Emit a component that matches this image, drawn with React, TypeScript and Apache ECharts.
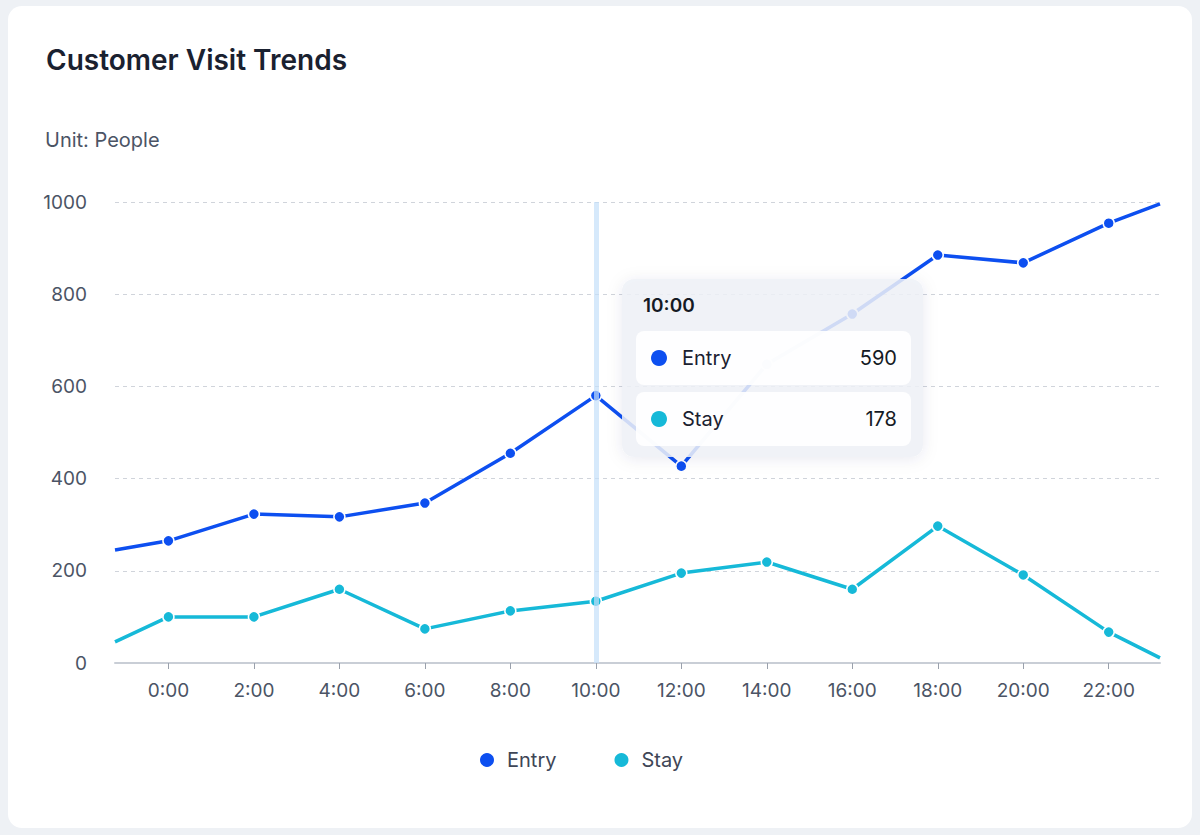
import React, { useEffect, useRef } from "react";
import * as echarts from "echarts";

const hours = [-1.25, 0, 2, 4, 6, 8, 10, 12, 14, 16, 18, 20, 22, 23.2];
const entryValues = [245, 265, 323, 317, 347, 455, 580, 427, 648, 757, 885, 868, 954, 996];
const stayValues = [46, 100, 100, 160, 74, 113, 134, 195, 219, 160, 297, 191, 67, 11];
const tickHours = [0, 2, 4, 6, 8, 10, 12, 14, 16, 18, 20, 22];
const tickLabels = ["0:00", "2:00", "4:00", "6:00", "8:00", "10:00", "12:00", "14:00", "16:00", "18:00", "20:00", "22:00"];
const yTicks = [0, 200, 400, 600, 800, 1000];
const tooltipTime = "10:00";
const tooltipHour = 10;
const tooltipEntry = 590;
const tooltipStay = 178;

const ENTRY_COLOR = "#0d4ff0";
const STAY_COLOR = "#16b9d8";
const FONT = "Inter, 'Noto Sans', sans-serif";

function toData(vals: number[]) {
  return vals.map((v, i) => {
    const edge = i === 0 || i === vals.length - 1;
    return edge ? { value: [hours[i], v], symbol: "none" } : { value: [hours[i], v] };
  });
}

export default function App() {
  const ref = useRef<HTMLDivElement>(null);
  useEffect(() => {
    document.body.style.margin = "0";
    const chart = echarts.init(ref.current!, null, { renderer: "svg" });
    const labelFor = (v: number) => {
      const idx = tickHours.indexOf(v);
      return idx >= 0 ? tickLabels[idx] : "";
    };
    const TZ = 100;
    chart.setOption({
      animation: false,
      backgroundColor: "#eef1f5",
      textStyle: { fontFamily: FONT },
      graphic: [
        {
          type: "rect",
          z: -10,
          shape: { x: 8, y: 6, width: 1184, height: 822, r: 14 },
          style: { fill: "#ffffff" },
          silent: true,
        },
        {
          type: "text",
          x: 46,
          y: 60,
          style: { text: "Customer Visit Trends", fill: "#1a2130", font: `600 28px ${FONT}`, verticalAlign: "middle" },
        },
        {
          type: "text",
          x: 45,
          y: 140,
          style: { text: "Unit: People", fill: "#4b5465", font: `400 20px ${FONT}`, verticalAlign: "middle" },
        },
        {
          type: "rect",
          z: TZ,
          shape: { x: 622, y: 279, width: 301, height: 178, r: 12 },
          style: {
            fill: "rgba(238,241,247,0.85)",
            shadowBlur: 16,
            shadowColor: "rgba(40,60,100,0.10)",
            shadowOffsetY: 2,
          },
        },
        {
          type: "text",
          z: TZ,
          x: 643,
          y: 305,
          style: { text: tooltipTime, fill: "#151a24", font: `600 19px ${FONT}`, verticalAlign: "middle" },
        },
        {
          type: "rect",
          z: TZ,
          shape: { x: 636, y: 331, width: 275, height: 54, r: 8 },
          style: { fill: "rgba(255,255,255,0.9)" },
        },
        {
          type: "rect",
          z: TZ,
          shape: { x: 636, y: 392, width: 275, height: 54, r: 8 },
          style: { fill: "rgba(255,255,255,0.9)" },
        },
        { type: "circle", z: TZ, shape: { cx: 659, cy: 358, r: 8 }, style: { fill: ENTRY_COLOR } },
        { type: "circle", z: TZ, shape: { cx: 659, cy: 419, r: 8 }, style: { fill: STAY_COLOR } },
        {
          type: "text",
          z: TZ,
          x: 682,
          y: 358,
          style: { text: "Entry", fill: "#1a2130", font: `400 20px ${FONT}`, verticalAlign: "middle" },
        },
        {
          type: "text",
          z: TZ,
          x: 682,
          y: 419,
          style: { text: "Stay", fill: "#1a2130", font: `400 20px ${FONT}`, verticalAlign: "middle" },
        },
        {
          type: "text",
          z: TZ,
          x: 897,
          y: 358,
          style: { text: String(tooltipEntry), fill: "#151a24", font: `400 20px ${FONT}`, align: "right", verticalAlign: "middle" },
        },
        {
          type: "text",
          z: TZ,
          x: 897,
          y: 419,
          style: { text: String(tooltipStay), fill: "#151a24", font: `400 20px ${FONT}`, align: "right", verticalAlign: "middle" },
        },
      ],
      legend: {
        data: ["Entry", "Stay"],
        left: 473,
        top: 745,
        icon: "circle",
        itemWidth: 16,
        itemHeight: 16,
        itemGap: 56,
        textStyle: { fontSize: 20, color: "#3e4656", fontFamily: FONT, padding: [0, 0, 0, 7] },
      },
      grid: { left: 115, right: 40, top: 202, bottom: 172, containLabel: false },
      xAxis: {
        type: "value",
        min: -1.25,
        max: 23.2,
        splitLine: { show: false },
        axisLine: { show: true, lineStyle: { color: "#c9ced6", width: 2 } },
        axisTick: { show: true, customValues: tickHours, length: 6, lineStyle: { color: "#9aa1ac" } },
        axisLabel: {
          customValues: tickHours,
          formatter: (v: number) => labelFor(v),
          color: "#4b5465",
          fontSize: 19,
          margin: 18,
          fontFamily: FONT,
        },
      },
      yAxis: {
        type: "value",
        min: 0,
        max: 1000,
        interval: 200,
        axisLine: { show: false },
        axisTick: { show: false },
        axisLabel: {
          color: "#4b5465",
          fontSize: 19,
          margin: 28,
          fontFamily: FONT,
          formatter: (v: number) => (yTicks.includes(v) ? String(v) : ""),
        },
        splitLine: { lineStyle: { color: "#d0d4db", type: [4, 4], width: 1 } },
      },
      series: [
        {
          name: "highlight",
          type: "line",
          data: [],
          z: 1,
          silent: true,
          markLine: {
            silent: true,
            symbol: "none",
            label: { show: false },
            lineStyle: { color: "rgba(196,224,250,0.7)", width: 5, type: "solid" },
            data: [{ xAxis: tooltipHour }],
          },
        },
        {
          name: "Entry",
          type: "line",
          z: 3,
          data: toData(entryValues),
          symbol: "circle",
          symbolSize: 11,
          showAllSymbol: true,
          lineStyle: { color: ENTRY_COLOR, width: 3.5 },
          itemStyle: { color: ENTRY_COLOR, borderColor: "#ffffff", borderWidth: 1.5 },
        },
        {
          name: "Stay",
          type: "line",
          z: 3,
          data: toData(stayValues),
          symbol: "circle",
          symbolSize: 11,
          showAllSymbol: true,
          lineStyle: { color: STAY_COLOR, width: 3.5 },
          itemStyle: { color: STAY_COLOR, borderColor: "#ffffff", borderWidth: 1.5 },
        },
      ],
    });
    return () => chart.dispose();
  }, []);
  return <div ref={ref} style={{ width: 1200, height: 835, position: "absolute", left: 0, top: 0 }} />;
}
